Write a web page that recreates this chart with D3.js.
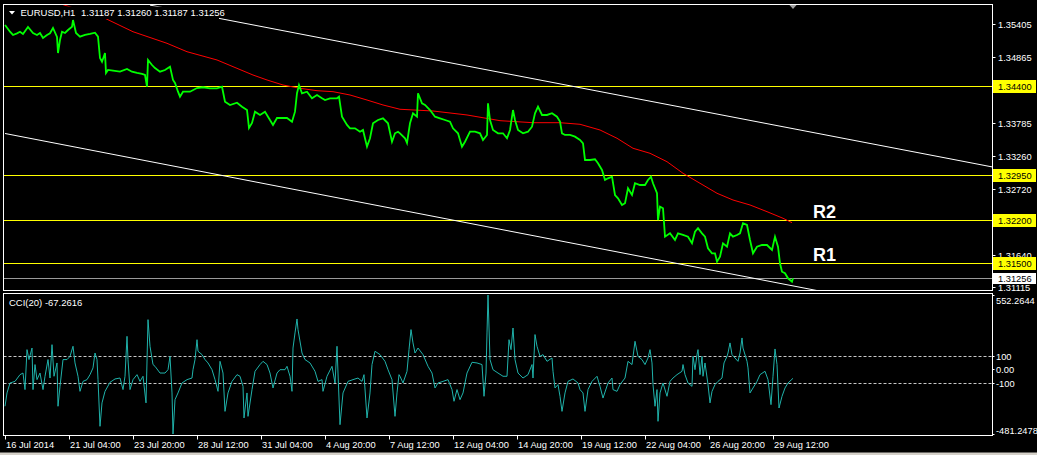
<!DOCTYPE html>
<html><head><meta charset="utf-8">
<script src="https://cdn.jsdelivr.net/npm/d3@7"></script>
<style>html,body{margin:0;padding:0;background:#000;overflow:hidden}svg{display:block}</style>
</head><body><svg id="c" width="1037" height="455"></svg>
<script>
// ---------- DATA ----------
const symbolTitle = "EURUSD,H1";
const ohlcTitle = "1.31187 1.31260 1.31187 1.31256";
const cciTitle = "CCI(20) -67.2616";

// bar index (hourly bars from the first visible bar)
const priceBars = [0,5,8,12,15,18,23,28,32,35,38,42,45,48,52,53,55,57,60,63,67,68,71,75,80,85,90,93,95,97,100,101,103,108,115,122,127,132,137,140,142,143,147,150,155,160,165,168,170,173,175,178,185,192,198,205,212,217,220,225,232,237,242,244,247,250,255,260,263,268,272,277,282,287,290,292,294,297,302,307,312,317,320,325,332,334,337,342,345,350,355,358,362,365,368,373,378,383,387,390,393,395,400,402,405,408,412,413,417,420,425,430,435,440,445,448,453,457,460,465,470,475,478,482,483,485,488,493,498,502,505,508,510,513,518,523,527,530,533,537,542,547,552,555,557,560,565,570,575,578,580,585,590,593,597,600,603,607,610,613,617,620,623,627,630,635,640,643,646,648,652,653,655,658,660,665,670,673,678,683,687,690,693,697,700,703,707,710,712,715,718,722,725,728,732,735,738,742,745,748,752,757,762,767,770,773,775,777,780,783,787,788];
const priceClose = [1.35389,1.35279,1.35226,1.35253,1.35279,1.35242,1.35356,1.35258,1.35226,1.35258,
1.35177,1.35226,1.35253,1.35340,1.35193,1.34932,1.35144,1.35279,1.35258,1.35307,
1.35361,1.35470,1.35258,1.35198,1.35226,1.35242,1.35263,1.35198,1.34850,1.34790,
1.34932,1.34606,1.34655,1.34643,1.34627,1.34671,1.34627,1.34606,1.34590,1.34573,
1.34382,1.34818,1.34736,1.34687,1.34627,1.34655,1.34709,1.34492,1.34443,1.34301,
1.34219,1.34301,1.34301,1.34361,1.34373,1.34356,1.34356,1.34382,1.34138,1.34084,
1.34121,1.34056,1.34002,1.33709,1.33790,1.33975,1.33921,1.33975,1.33893,1.33758,
1.33872,1.33872,1.33872,1.33812,1.33975,1.34275,1.34410,1.34275,1.34301,1.34193,
1.34247,1.34193,1.34165,1.34193,1.34193,1.34219,1.33893,1.33758,1.33704,1.33704,
1.33648,1.33676,1.33404,1.33541,1.33785,1.33839,1.33867,1.33785,1.33485,1.33622,
1.33648,1.33622,1.33541,1.33464,1.33785,1.33949,1.33893,1.34275,1.34112,1.34084,
1.34002,1.33893,1.33867,1.33839,1.33812,1.33704,1.33622,1.33404,1.33485,1.33648,
1.33648,1.33622,1.33513,1.33595,1.34112,1.33839,1.33676,1.33622,1.33622,1.33541,
1.33676,1.34002,1.33839,1.33676,1.33622,1.33648,1.33730,1.33949,1.34056,1.33921,
1.33921,1.33949,1.33893,1.33812,1.33622,1.33595,1.33595,1.33567,1.33513,1.33459,
1.33187,1.33187,1.33198,1.33133,1.33024,1.32861,1.32888,1.32914,1.32616,1.32562,
1.32453,1.32481,1.32725,1.32616,1.32807,1.32779,1.32779,1.32861,1.32914,1.32807,
1.32644,1.32208,1.32425,1.32399,1.31936,1.31991,1.31882,1.31991,1.31964,1.31936,
1.31828,1.32017,1.32073,1.31991,1.31936,1.31747,1.31665,1.31665,1.31528,1.31610,
1.31828,1.31773,1.31991,1.31936,1.31964,1.31991,1.32154,1.32127,1.31882,1.31665,
1.31773,1.31800,1.31800,1.31719,1.31936,1.31773,1.31502,1.31365,1.31339,1.31257,
1.31202,1.31256];

const maBars = [53,100,128,162,182,212,228,248,262,278,295,312,328,345,362,378,395,428,462,495,528,555,575,595,612,628,645,662,678,695,712,728,745,762,778,787];
const maValues = [1.35748,1.35498,1.35279,1.35090,1.34953,1.34818,1.34709,1.34573,1.34492,1.34410,1.34356,1.34317,1.34301,1.34247,1.34165,1.34084,1.34014,1.33986,1.33921,1.33828,1.33795,1.33795,1.33769,1.33676,1.33541,1.33378,1.33296,1.33159,1.32970,1.32807,1.32644,1.32534,1.32453,1.32344,1.32236,1.32164];

const cciBars = [0,2,5,10,15,18,20,22,24,27,28,30,32,35,38,40,43,45,47,49,52,53,55,58,62,65,68,70,73,75,78,82,85,88,90,92,93,95,97,100,105,110,115,118,120,122,123,125,128,132,135,138,141,143,145,148,150,155,160,163,165,167,168,170,173,177,182,187,188,190,192,193,197,200,203,207,210,213,215,218,220,223,227,232,235,238,239,242,243,247,250,255,258,262,265,268,272,275,280,282,285,287,288,290,292,293,297,300,305,310,313,317,318,322,327,330,332,333,335,338,343,348,353,357,359,362,365,367,370,375,380,383,387,390,392,394,
395,398,402,404,406,408,410,413,418,423,427,430,433,438,443,447,449,452,455,458,462,467,472,477,479,481,482,483,485,488,493,498,502,504,506,508,510,513,518,523,527,528,530,532,535,538,542,547,548,550,553,555,557,560,563,568,573,575,578,580,583,587,592,595,598,603,607,608,612,615,620,623,627,630,633,637,640,643,645,647,648,650,652,653,655,658,662,665,668,672,677,678,680,683,687,688,690,692,693,695,697,698,700,703,705,707,710,713,717,719,722,723,725,727,730,733,735,737,738,742,743,745,748,752,755,760,763,766,768,770,772,774,777,780,783,788];
const cciValues = [-275,-176,-102,-90,-40,-28,-151,146,72,158,-151,35,-77,-28,-151,-52,72,-65,183,-52,47,-275,-127,72,72,96,171,47,-52,-164,-90,-77,-40,10,121,72,-77,-424,-250,-164,-97,-72,-65,-151,-52,245,72,-151,-77,-40,-90,-52,-250,369,171,35,22,-28,-28,-3,96,-176,-481.2478,-226,-176,-102,-77,-65,-3,72,220,134,109,72,47,-3,-77,-164,59,-28,-313,-176,-90,-40,-52,-127,-362,-176,-350,-151,-15,35,59,35,-28,-139,-28,-3,-3,22,-52,-164,158,270,374,295,121,72,47,-15,-90,-77,-164,-52,22,-102,171,-28,-412,-176,-90,-77,-65,-90,-40,-362,-176,35,134,109,59,-3,-77,-350,-176,-40,
-52,-102,-15,146,295,196,121,158,109,22,-28,-139,-102,-90,-77,-151,-238,-151,-226,-176,-28,52,47,35,-201,-28,270,552.2644,72,-3,-28,-52,-52,220,146,307,72,-28,-65,-40,35,-65,258,171,96,109,59,84,-15,-139,-114,-201,-313,-176,-90,-72,-102,-151,-176,-313,-151,-90,-52,-127,-214,-102,-65,-151,-164,-114,-65,59,35,208,96,72,35,84,146,47,-114,-275,-151,-387,-176,-102,-201,-90,-65,-40,-15,35,-40,-102,-127,96,-3,109,146,-40,96,-52,47,-114,-250,-164,-114,-90,-65,47,96,121,196,109,84,59,121,233,158,59,10,-176,-139,-90,-40,-15,-77,-263,-52,151,35,-288,-201,-139,-102,-67.2616];

const levelLines = [1.34400, 1.32950, 1.32200, 1.31500];
const levelLabels = ["1.34400", "1.32950", "1.32200", "1.31500"];
const bidPrice = 1.31256;
const bidLabel = "1.31256";
const upperChannelBars = [145, 795];
const upperChannelPrices = [1.35713, 1.33676];
const lowerChannelBars = [0, 795];
const lowerChannelPrices = [1.33619, 1.31111];
const priceTicks = [1.35405, 1.34865, 1.33785, 1.33260, 1.32720, 1.31640, 1.31115];
const priceTickLabels = ["1.35405","1.34865","1.33785","1.33260","1.32720","1.31640","1.31115"];
const cciTicks = [552.2644, 100, 0, -100, -481.2478];
const cciTickLabels = ["552.2644","100","0.00","-100","-481.2478"];
const cciLevels = [100, -100];
const timeTickBars = [0,64,128,192,256,320,384,448,512,576,640,704,768];
const timeTickLabels = ["16 Jul 2014","21 Jul 04:00","23 Jul 20:00","28 Jul 12:00","31 Jul 04:00","4 Aug 20:00","7 Aug 12:00","12 Aug 04:00","14 Aug 20:00","19 Aug 12:00","22 Aug 04:00","26 Aug 20:00","29 Aug 12:00"];
const textMarks = [{t:"R2", price:1.32200}, {t:"R1", price:1.31500}];
const lastBar = 788;

// ---------- LAYOUT ----------
const L = 3.5, R = 992.5, mainTop = 4.5, mainBot = 290.5, cciTop = 293.5, cciBot = 435.5;
const FONT = "'Liberation Sans', Arial, sans-serif";
const svg = d3.select('#c');
svg.append('rect').attr('width',1037).attr('height',455).attr('fill','#000');
svg.append('rect').attr('x',0).attr('y',452.5).attr('width',1037).attr('height',3).attr('fill','#d4d0c8');

const x = d3.scaleLinear().domain([0, 987]).range([5, 992]);
const y = d3.scaleLinear().domain([1.31058, 1.35723]).range([mainBot, mainTop]);
const yc = d3.scaleLinear().domain([-481.2478, 552.2644]).range([434, 295]);

const defs = svg.append('defs');
defs.append('clipPath').attr('id','cm').append('rect').attr('x',L).attr('y',mainTop).attr('width',R-L).attr('height',mainBot-mainTop);
defs.append('clipPath').attr('id','cc').append('rect').attr('x',L).attr('y',cciTop).attr('width',R-L).attr('height',cciBot-cciTop);

const gm = svg.append('g').attr('clip-path','url(#cm)');
const crisp = v => Math.round(v) + 0.5;

// horizontal levels
gm.selectAll('line.lvl').data(levelLines).enter().append('line')
  .attr('x1',L).attr('x2',R).attr('y1',d=>crisp(y(d))).attr('y2',d=>crisp(y(d)))
  .attr('stroke','#ffff00').attr('stroke-width',1);
gm.append('line').attr('x1',L).attr('x2',R).attr('y1',crisp(y(bidPrice))).attr('y2',crisp(y(bidPrice)))
  .attr('stroke','#9a9a9a').attr('stroke-width',1);

// channel lines
function extend(bars, prices, b){ return prices[0] + (prices[1]-prices[0])*(b-bars[0])/(bars[1]-bars[0]); }
gm.append('line').attr('x1',x(upperChannelBars[0])).attr('y1',y(upperChannelPrices[0]))
  .attr('x2',x(987)).attr('y2',y(extend(upperChannelBars,upperChannelPrices,987)))
  .attr('stroke','#fff').attr('stroke-width',1);
gm.append('line').attr('x1',x(lowerChannelBars[0])).attr('y1',y(lowerChannelPrices[0]))
  .attr('x2',x(987)).attr('y2',y(extend(lowerChannelBars,lowerChannelPrices,987)))
  .attr('stroke','#fff').attr('stroke-width',1);

// MA
const maData = maBars.map((b,i)=>({b, v:maValues[i]}));
gm.append('path').datum(maData).attr('fill','none').attr('stroke','#ff0000').attr('stroke-width',1)
  .attr('d', d3.line().x(d=>x(d.b)).y(d=>y(d.v)));

// price line
const pData = priceBars.map((b,i)=>({b, v:priceClose[i]}));
gm.append('path').datum(pData).attr('fill','none').attr('stroke','#00ff00').attr('stroke-width',1.8)
  .attr('stroke-linejoin','miter')
  .attr('d', d3.line().x(d=>x(d.b)).y(d=>y(d.v)));

// title (black background)
svg.append('rect').attr('x',6).attr('y',6.5).attr('width',213).attr('height',12.5).attr('fill','#000');
svg.append('path').attr('d','M9,11 L15,11 L12,14.5 Z').attr('fill','#fff');
svg.append('text').attr('x',20.5).attr('y',16.3).attr('fill','#fff').attr('font-family',FONT).attr('font-size',9.5)
  .text(symbolTitle);
svg.append('text').attr('x',81).attr('y',16.3).attr('fill','#fff').attr('font-family',FONT).attr('font-size',9.5)
  .text(ohlcTitle);

// R labels
svg.selectAll('text.rl').data(textMarks).enter().append('text')
  .attr('x', x(lastBar + 20)).attr('y', d=>y(d.price) - 2)
  .attr('fill','#fff').attr('font-family',FONT).attr('font-weight','bold').attr('font-size',18)
  .text(d=>d.t);

// shift marker
svg.append('path').attr('d',`M${x(lastBar)-4},4.5 L${x(lastBar)+4},4.5 L${x(lastBar)},9 Z`).attr('fill','#a0a0a0');

// ---------- CCI ----------
const gc = svg.append('g').attr('clip-path','url(#cc)');
gc.selectAll('line.cl').data(cciLevels).enter().append('line')
  .attr('x1',L).attr('x2',R).attr('y1',d=>crisp(yc(d))).attr('y2',d=>crisp(yc(d)))
  .attr('stroke','#c8c8c8').attr('stroke-width',1).attr('stroke-dasharray','3,2');
const cData = cciBars.map((b,i)=>({b, v:cciValues[i]}));
gc.append('path').datum(cData).attr('fill','none').attr('stroke','#20b2aa').attr('stroke-width',1)
  .attr('d', d3.line().x(d=>x(d.b)).y(d=>yc(d.v)));
svg.append('text').attr('x',9).attr('y',305.5).attr('fill','#fff').attr('font-family',FONT).attr('font-size',9.5).text(cciTitle);

// ---------- FRAMES ----------
svg.append('rect').attr('x',L).attr('y',mainTop).attr('width',R-L).attr('height',mainBot-mainTop)
  .attr('fill','none').attr('stroke','#fff').attr('stroke-width',1);
svg.append('rect').attr('x',L).attr('y',cciTop).attr('width',R-L).attr('height',cciBot-cciTop)
  .attr('fill','none').attr('stroke','#fff').attr('stroke-width',1);

// ---------- PRICE AXIS ----------
const ax = svg.append('g').attr('font-family',FONT).attr('font-size',9.3);
priceTicks.forEach((p,i)=>{
  const yy = Math.round(y(p))+0.5;
  ax.append('line').attr('x1',R).attr('x2',R+3).attr('y1',yy).attr('y2',yy).attr('stroke','#fff');
  ax.append('text').attr('x',998).attr('y',yy).attr('dy','0.35em').attr('fill','#fff').text(priceTickLabels[i]);
});
levelLines.forEach((p,i)=>{
  const yy = Math.round(y(p))+0.5;
  ax.append('rect').attr('x',R+0.5).attr('y',yy-6.5).attr('width',43).attr('height',13).attr('fill','#ffff00');
  ax.append('text').attr('x',998).attr('y',yy).attr('dy','0.35em').attr('fill','#000').text(levelLabels[i]);
});
{
  const yy = Math.round(y(bidPrice))+0.5;
  ax.append('rect').attr('x',R+0.5).attr('y',yy-5.5).attr('width',43).attr('height',11).attr('fill','#fff');
  ax.append('text').attr('x',998).attr('y',yy).attr('dy','0.35em').attr('fill','#000').text(bidLabel);
}

// CCI axis
const cciLabelOffsets = [5, 0, 0, 0, -4];
cciTicks.forEach((v,i)=>{
  const yy = Math.round(yc(v))+0.5;
  ax.append('line').attr('x1',R).attr('x2',R+2).attr('y1',yy).attr('y2',yy).attr('stroke','#fff');
  ax.append('text').attr('x',996).attr('y',yy+cciLabelOffsets[i]).attr('dy','0.35em').attr('fill','#fff').text(cciTickLabels[i]);
});

// ---------- TIME AXIS ----------
timeTickBars.forEach((b,i)=>{
  const xx = Math.round(x(b))+0.5;
  ax.append('line').attr('x1',xx).attr('x2',xx).attr('y1',cciBot).attr('y2',cciBot+4).attr('stroke','#fff');
  ax.append('text').attr('x',xx+0.5).attr('y',448).attr('fill','#fff').text(timeTickLabels[i]);
});
</script></body></html>
